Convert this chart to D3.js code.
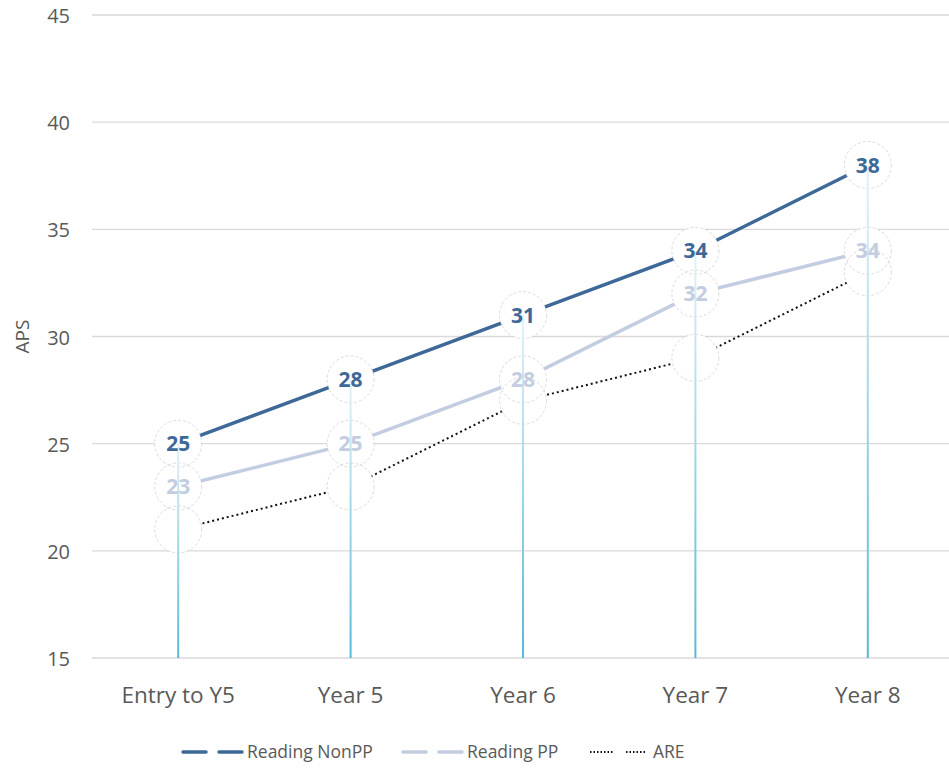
<!DOCTYPE html>
<html>
<head>
<meta charset="utf-8">
<script src="https://cdn.jsdelivr.net/npm/d3@7"></script>
<style>
  html, body { margin: 0; padding: 0; background: #fff; }
  svg { display: block; font-family: "Open Sans", "Noto Sans", sans-serif; }
</style>
</head>
<body>
<svg id="chart" width="949" height="769"></svg>
<script>
// Average point scores by stage
const categories = ["Entry to Y5", "Year 5", "Year 6", "Year 7", "Year 8"];
const nonPP = [25, 28, 31, 34, 38];
const pp = [23, 25, 28, 32, 34];
const are = [21, 23, 27, 29, 33];
const yTicks = [15, 20, 25, 30, 35, 40, 45];

const series = [
  { name: "Reading NonPP", values: nonPP, color: "#3d6898", width: 3.5, dash: null, label: true },
  { name: "Reading PP", values: pp, color: "#c3cde1", width: 3.5, dash: null, label: true },
  { name: "ARE", values: are, color: "#111", width: 2, dash: "2,3", label: false }
];

const svg = d3.select("#chart");
const margin = { left: 92, right: -5, top: 15, bottom: 111 };
const W = 949, H = 769;

const x = d3.scaleBand().domain(categories).range([margin.left, W - margin.right]).padding(0);
const y = d3.scaleLinear().domain([15, 45]).range([H - margin.bottom, margin.top]);
const cx = c => x(c) + x.bandwidth() / 2;

// gridlines
svg.append("g").selectAll("line").data(yTicks).join("line")
  .attr("x1", margin.left).attr("x2", W)
  .attr("y1", d => y(d)).attr("y2", d => y(d))
  .attr("stroke", "#d9d9d9").attr("stroke-width", 1.3);

// y tick labels
svg.append("g").selectAll("text").data(yTicks).join("text")
  .attr("x", 70).attr("y", d => y(d)).attr("dy", "0.4em")
  .attr("text-anchor", "end").attr("fill", "#595959").attr("font-size", 20)
  .text(d => d);

// y axis title
svg.append("text")
  .attr("transform", `translate(29, ${y(30)}) rotate(-90)`)
  .attr("text-anchor", "middle").attr("fill", "#595959").attr("font-size", 19)
  .text("APS");

// x tick labels
svg.append("g").selectAll("text").data(categories).join("text")
  .attr("x", d => cx(d)).attr("y", 703)
  .attr("text-anchor", "middle").attr("fill", "#595959").attr("font-size", 22.5)
  .text(d => d);

// series lines
const line = d3.line().x((d, i) => cx(categories[i])).y(d => y(d));
series.forEach(s => {
  svg.append("path").datum(s.values)
    .attr("d", line).attr("fill", "none")
    .attr("stroke", s.color).attr("stroke-width", s.width)
    .attr("stroke-dasharray", s.dash);
});

// marker circles: fills first, then outlines
const pts = [];
series.forEach((s, si) => s.values.forEach((v, i) => pts.push({ s, si, v, c: categories[i] })));
const R = 23.5;
svg.append("g").selectAll("circle").data(pts).join("circle")
  .attr("cx", d => cx(d.c)).attr("cy", d => y(d.v)).attr("r", R)
  .attr("fill", "#fff");
svg.append("g").selectAll("circle").data(pts).join("circle")
  .attr("cx", d => cx(d.c)).attr("cy", d => y(d.v)).attr("r", R)
  .attr("fill", "none").attr("stroke", "#c8c8c8").attr("stroke-width", 0.8)
  .attr("stroke-dasharray", "3,2").attr("opacity", 0.8);

// drop lines with a gradient
const defs = svg.append("defs");
const grad = defs.append("linearGradient").attr("id", "drop")
  .attr("x1", 0).attr("y1", 0).attr("x2", 0).attr("y2", 1);
grad.append("stop").attr("offset", "0%").attr("stop-color", "#e4f3f8");
grad.append("stop").attr("offset", "100%").attr("stop-color", "#57b9d6");

categories.forEach((c, i) => {
  const top = d3.max(series, s => s.values[i]);
  svg.append("rect")
    .attr("x", cx(c) - 1).attr("width", 2)
    .attr("y", y(top)).attr("height", y(15) - y(top))
    .attr("fill", "url(#drop)");
});

// value labels
svg.append("g").selectAll("text").data(pts.filter(d => d.s.label)).join("text")
  .attr("x", d => cx(d.c)).attr("y", d => y(d.v)).attr("dy", "0.36em")
  .attr("text-anchor", "middle").attr("font-weight", "bold").attr("font-size", 21)
  .attr("fill", d => d.s.color)
  .text(d => d.v);

// legend
const legend = svg.append("g");
const lx = [183, 403, 590];
series.forEach((s, i) => {
  const g = legend.append("g").attr("transform", `translate(${lx[i]}, 752)`);
  if (s.dash) {
    g.append("line").attr("x1", 0).attr("x2", 23).attr("stroke", s.color).attr("stroke-width", 1.8).attr("stroke-dasharray", "1.5,2");
    g.append("line").attr("x1", 36).attr("x2", 56).attr("stroke", s.color).attr("stroke-width", 1.8).attr("stroke-dasharray", "1.5,2");
  } else {
    g.append("line").attr("x1", 0).attr("x2", 23).attr("stroke", s.color).attr("stroke-width", s.width).attr("stroke-linecap", "round");
    g.append("line").attr("x1", 36).attr("x2", 59).attr("stroke", s.color).attr("stroke-width", s.width).attr("stroke-linecap", "round");
  }
  g.append("text").attr("x", s.dash ? 63 : 64).attr("dy", "0.35em")
    .attr("fill", "#595959").attr("font-size", 17.5).text(s.name);
});
</script>
</body>
</html>
